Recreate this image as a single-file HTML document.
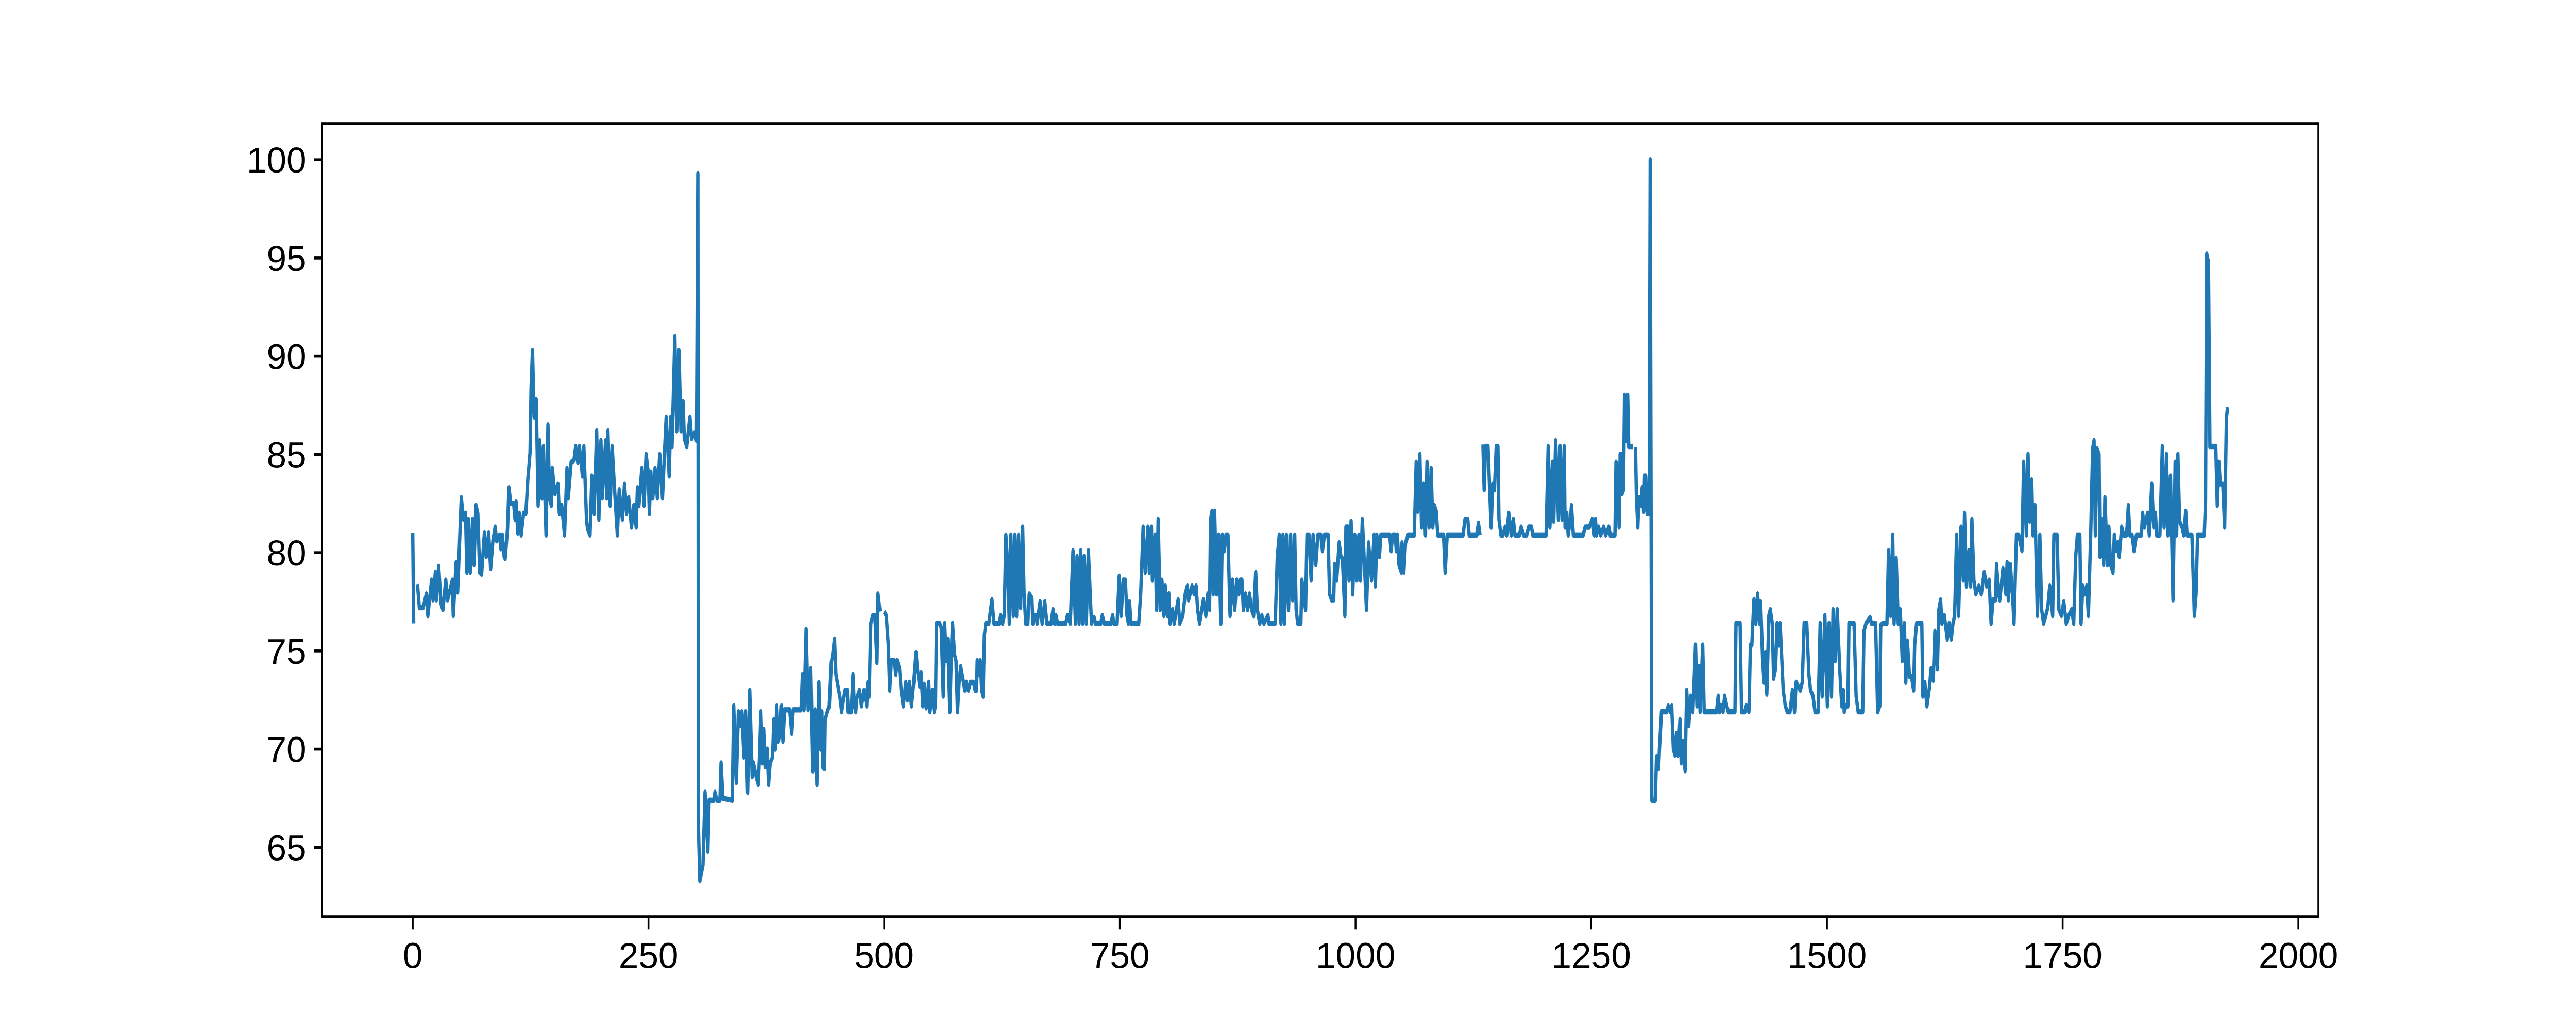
<!DOCTYPE html>
<html>
<head>
<meta charset="utf-8">
<style>
  html, body { margin: 0; padding: 0; background: #ffffff; width: 100%; height: 100%; overflow: hidden; }
  svg { display: block; width: 100vw; height: 100vh; font-family: "Liberation Sans", "DejaVu Sans", sans-serif; }
</style>
</head>
<body>
<svg id="chart" xmlns="http://www.w3.org/2000/svg" viewBox="0 0 8000 2000" preserveAspectRatio="none">
  <rect x="0" y="0" width="8000" height="2000" fill="#ffffff"/>
  <g id="xticks"></g>
  <g id="yticks"></g>
  <path id="series" fill="none" stroke="#1f77b4" stroke-width="10.4" stroke-linejoin="round" stroke-linecap="butt"/>
  <rect x="1000" y="240" width="6200" height="1540" fill="none" stroke="#000000" stroke-width="5.6"/>
</svg>
<script>
const xTicks = [0, 250, 500, 750, 1000, 1250, 1500, 1750, 2000];
const yTicks = [65, 70, 75, 80, 85, 90, 95, 100];
const xIdx = [0,1,3,5,7,11,14.5,16,20,21.5,24,25,27.5,30,32,35,37,42,43,46,47.6,51.5,53.7,56,57.4,59,61,63.5,65,67,69,71,73,76,78,80.5,82.6,85,87.4,89,92,93.5,95,97,98,100.5,102,104,107,108.5,109.6,111.4,113,115,117.5,120,122,124.4,125.5,127,128.8,131,133,134.7,137,138.6,141.4,143.4,145,147,148,150.6,154,155.5,158,161,163.6,165,168,171,172.8,175,176.7,180,181.5,184.4,185.5,188,190,192.4,195,197.4,199.6,201,204.6,205.7,207,209.4,211.5,213.7,217,219,222.4,224.6,226.8,229,232,234.4,237,238.3,239.9,243,245.3,247.5,249.7,251,252.5,254.6,257,259.4,262,264.9,267,268.8,272,273.6,275,278,280,282.3,284.5,286.7,288,290.6,294,295.8,298.7,301,302.4,303,304.5,307.8,310,313,314.3,315.5,319.3,320.5,322.6,325.8,327,329,338.9,340.4,343.2,345.4,347.6,349.1,351.3,353,355.2,357.4,360,361.3,364.3,366.5,367.8,369.3,370.9,372.2,373.7,375.9,377.4,379.1,381.7,383,384.6,386.1,387.8,390,391.1,392.6,394.4,397.6,399.8,402,403.5,411.8,413.3,415,417.2,419.4,422.2,424.4,426.6,428.6,430.7,432.5,434,434.7,436.8,437.5,439.7,441.8,444,445.6,447.3,448.8,450.6,453.2,454.9,457.1,458.6,460.8,461.9,465.1,466.9,468.4,469.9,471,473.9,476,478.7,481.5,482.6,484.1,485.8,488,490.2,492.4,493.5,495.6,497.5,500,502.2,504.4,505.9,507.6,510.9,512.4,513.7,516.3,518,520.2,522.9,524.6,526.8,529,531.6,533.8,535.5,537.7,539.2,541,542.5,544.6,547.3,548.6,551.2,553,554.4,555.5,558.8,560.5,562.7,564.2,565.8,567.5,569.7,571.2,572.5,574.7,576.2,577.8,579.5,581.2,583.8,585.6,587.1,589.3,591.5,594.7,596.5,598,598.7,600.2,601.9,603.5,605,606.3,607.8,611,612.1,614.3,616.5,621.9,623.7,625.6,627.4,629.1,630.7,632.8,634.4,637,638.7,640.5,642.6,644.7,646.9,648.4,650.2,652.4,653.9,656.7,657.8,658.9,661.1,662.2,665.4,667.6,670.4,672.6,677,679.1,680.7,682.2,683.9,692.6,694.4,697.4,700.3,702.9,704.6,706.8,708.5,710.7,712.2,714.4,716.6,718.8,719.9,722.7,724.2,729.7,731.4,733.6,740.6,742.3,743.8,747.1,749.3,751.4,753.6,755.8,757.5,759.1,760.2,761.9,770,772.1,774.7,776.9,779.8,781.3,783.5,784.5,787.4,788.9,790.6,792.8,794.6,796.7,798.3,800.4,802,803.3,805.9,807.6,811.8,813.5,816.8,819.4,821.6,822.9,826.6,828.8,830.9,832.5,834.6,838.6,841.2,843.3,845.1,846.2,847.7,849,850.5,852.7,854.9,857.1,858.6,860.8,862.5,864.7,865.8,866.9,869.5,871.9,874,876.2,877.7,879.5,881,883.2,885.4,887.5,889.7,891.9,894.1,895.8,898.4,900.6,902.8,907.1,908.2,914.8,917,919.1,920.9,923,924.6,926.7,928.9,931.1,933.3,935.5,937,938.7,942,943.1,947,948.5,950.7,952.9,955,957.9,960.1,963.1,964.9,967,970.9,972.4,974.6,976.8,977.8,980,982.6,984.4,986.1,988.7,989.8,992,993.1,995.3,997,999.2,1001.4,1003.5,1005.1,1007.2,1009.4,1011.6,1013.8,1017,1019.7,1021,1022.5,1025.3,1026.8,1036.2,1037.7,1039.3,1042.1,1043.2,1044.3,1046,1048.6,1049.3,1051.2,1053,1055.8,1062.3,1064.3,1066,1068.2,1070,1072.1,1074.1,1075.8,1078,1080.2,1081.9,1083.5,1085.6,1087.2,1093.3,1095,1097.2,1114,1116.1,1119,1120.5,1128.5,1130.3,1132,1133.5,1135.1,1136.4,1137.9,1140.5,1143.8,1145.5,1147.3,1149.2,1151,1152.1,1154.2,1156.4,1158.6,1160.3,1162.5,1165.1,1167.3,1169,1173.8,1175.6,1178.2,1181.5,1183.6,1186.5,1188,1202.1,1204.3,1206.1,1208.7,1210.2,1212.2,1215.2,1217,1219.1,1221.3,1222.2,1224,1225.5,1227.9,1229,1231,1241.4,1243.5,1247.9,1251.1,1253.3,1254.4,1255.5,1257.7,1259.9,1263.1,1265.3,1268.6,1270.1,1275.1,1276.2,1277.9,1279.5,1280.6,1282.1,1282.7,1284.2,1285.3,1287.5,1288.6,1289.7,1294.4,1295.6,1296.9,1297.9,1299.4,1300.5,1302.7,1304,1305.5,1306.6,1307.7,1309.2,1311.4,1312.5,1314.2,1317.9,1319.2,1321.4,1322.3,1324.5,1330.1,1331.6,1333.8,1335.3,1337.1,1338.8,1340.4,1341.9,1344.1,1345.4,1347.3,1349.5,1351.2,1353.4,1355.6,1357.8,1360.6,1362.1,1364.3,1365.4,1368.2,1369.8,1382.8,1384.6,1386.1,1387.6,1389.8,1391.5,1393.7,1395.4,1402.4,1403.5,1407.9,1409.4,1412.9,1414.4,1417.2,1418.8,1420.3,1422.5,1424.6,1426.4,1428.6,1429.6,1431.8,1433.3,1434.6,1436.2,1438.4,1439.9,1442,1443.4,1445.5,1447.1,1449.2,1450.3,1453.6,1455.8,1457.9,1460.8,1463.4,1465.6,1467.3,1469.5,1471.7,1473.8,1475.8,1478.6,1480.8,1482.6,1485.2,1487.3,1490.6,1492.8,1494.9,1497.8,1500.4,1502.2,1504.8,1506.5,1508.7,1510.9,1513.5,1515.7,1517.4,1518.3,1520,1522.2,1523.3,1528.7,1530.9,1533.1,1537.9,1539.2,1541.4,1545.7,1547.2,1551.6,1553.8,1556,1557,1559.2,1563.6,1565.3,1567.5,1569.7,1571.2,1573.4,1575.6,1577.7,1579.9,1582.1,1583.6,1585.3,1587.5,1589.7,1591.9,1593,1595.1,1600.6,1601.7,1603.8,1606,1608.9,1610.4,1612.7,1614.5,1617.1,1618.7,1620.5,1621.9,1624.5,1627.6,1629.7,1631.8,1633.6,1635.4,1637.5,1639.6,1642.2,1644.6,1645.9,1648,1650.6,1652.4,1653.7,1655.8,1657.9,1661,1663.7,1666.8,1669.4,1672,1674.1,1676.2,1678.8,1679.9,1682,1683.3,1686.7,1689.8,1691.1,1692.4,1694.5,1697.1,1698.4,1701,1703.4,1706.8,1708.6,1711.5,1713.3,1715.1,1717.2,1718.5,1720.6,1723.2,1725.8,1727.7,1729.8,1732.1,1734.2,1736.3,1739.4,1740.7,1744.1,1746,1748.6,1751.2,1753.8,1756.4,1759.6,1761.7,1763.8,1765.6,1768.2,1769.5,1771.3,1773.4,1775.5,1777.3,1779.9,1781.8,1783.3,1784.7,1786.5,1788.6,1789.6,1791.7,1793.5,1794.8,1797.4,1799,1800.9,1803.4,1804.8,1806.9,1808.7,1810,1812.6,1814.7,1817.8,1819.7,1821.2,1823.6,1825.7,1828.3,1833.5,1834.8,1836.7,1840.1,1841.9,1844.5,1846.6,1848.4,1849.7,1853.1,1855.7,1857.6,1860.2,1861.7,1864.3,1867,1869.3,1870.9,1872.2,1874,1876.6,1878.5,1880.5,1881.9,1884.5,1887.1,1889.7,1891.5,1893.1,1900.2,1901.5,1902.8,1904.6,1906.2,1909.3,1912.4,1914,1915.8,1917.1,1919.8,1921.8,1923.7,1925];
const yVals = [81.0,76.4,null,78.4,77.2,77.2,77.9,76.8,78.6,77.6,79.0,77.6,79.3,77.4,77.1,78.6,77.6,78.6,76.8,79.5,78.0,82.8,81.7,82.0,79.0,81.7,79.0,81.7,79.4,82.4,82.0,79.0,78.9,81.0,79.8,81.0,79.2,80.6,81.3,80.6,80.9,80.2,80.9,79.8,79.7,81.2,83.3,82.5,82.5,81.7,82.6,81.0,82.0,80.9,82.0,82.0,83.7,85.1,88.4,90.3,86.9,87.8,82.4,85.7,82.8,85.4,80.9,86.5,82.8,82.4,84.3,83.0,83.5,82.0,82.4,80.9,84.3,82.8,84.6,84.7,85.4,84.6,85.4,83.9,85.4,81.6,81.2,80.9,83.9,82.0,86.2,81.7,85.7,82.8,85.7,82.8,86.2,82.4,85.4,83.5,80.9,83.2,81.7,83.5,82.0,82.8,81.3,82.4,81.3,83.3,82.4,84.3,82.4,85.0,84.1,82.0,84.1,82.8,84.3,82.8,85.0,82.8,85.1,86.9,83.9,86.9,85.4,91.0,86.2,90.3,86.2,87.7,85.8,85.4,86.9,85.8,86.1,85.7,99.3,66.0,63.3,64.1,67.8,64.8,67.4,67.4,67.4,67.8,67.4,67.4,69.3,67.5,67.4,72.2,68.3,71.9,71.2,71.9,69.6,71.9,67.8,73.0,68.6,69.3,68.6,68.2,69.6,71.9,69.3,71.0,69.1,70.0,68.2,69.3,69.6,71.5,70.0,72.2,70.4,71.2,72.2,70.4,72.0,72.0,72.0,70.8,72.0,72.0,73.8,72.0,76.1,72.0,74.1,68.9,72.0,68.2,73.4,70.0,71.9,69.1,69.0,71.5,71.9,72.2,74.4,74.9,75.6,73.8,73.3,72.6,71.9,72.6,73.0,73.0,71.9,71.9,73.8,72.2,71.9,72.6,73.0,72.2,73.0,72.2,73.4,72.7,76.4,76.8,76.8,74.4,77.9,77.0,null,77.0,76.8,75.3,73.0,74.5,74.5,73.8,74.5,74.1,73.0,72.2,73.4,72.5,73.4,72.2,73.5,74.9,74.0,73.2,73.9,72.2,73.3,72.1,73.4,71.9,73.0,71.9,72.2,76.4,76.4,76.2,72.7,76.4,74.5,75.6,71.9,74.8,76.4,74.8,74.5,71.9,73.4,74.2,73.5,73.0,73.4,73.0,73.4,73.4,73.0,73.0,74.5,73.8,74.5,73.0,72.7,75.8,76.4,76.4,76.8,77.6,76.4,76.4,76.8,76.4,76.8,80.9,79.7,76.4,80.9,76.8,80.9,76.8,80.9,77.2,81.3,77.9,76.4,76.4,77.9,77.7,76.4,76.8,76.8,76.4,77.5,76.4,77.5,76.4,76.4,77.1,76.4,76.8,76.4,76.4,76.8,76.4,80.1,76.4,79.8,76.4,80.1,76.4,79.8,76.4,80.1,77.6,76.4,76.7,76.4,76.4,76.8,76.4,76.4,76.8,76.4,76.4,78.8,76.8,78.6,78.6,76.8,76.4,77.5,76.4,76.4,77.9,81.3,79.0,81.3,79.0,81.3,78.6,80.9,77.1,81.7,77.1,78.6,76.8,78.3,76.8,77.9,76.4,77.1,76.4,77.6,76.4,76.8,77.9,78.3,77.6,78.3,77.9,78.3,77.1,76.4,77.6,76.8,77.9,77.1,81.7,82.1,77.9,82.1,77.9,80.9,76.4,80.9,80.1,80.9,80.9,78.8,76.8,78.6,77.1,78.6,77.9,78.6,78.6,77.1,77.9,77.1,77.9,77.1,76.8,79.0,77.1,76.4,76.8,76.4,76.8,76.4,76.4,79.8,80.9,76.4,80.9,76.4,80.9,77.1,80.9,77.6,80.9,77.1,76.4,76.4,78.6,77.1,80.9,80.9,78.6,80.9,79.4,80.9,80.9,80.1,80.9,80.9,77.9,77.6,77.6,79.4,78.6,80.5,79.8,79.7,76.8,81.3,81.3,78.6,81.6,77.9,80.9,78.6,80.9,78.6,81.7,79.4,77.1,80.5,78.6,80.9,78.3,80.9,79.8,80.9,80.9,80.1,80.9,80.9,80.1,80.9,79.4,79.0,80.5,79.0,80.5,80.9,80.9,84.6,82.1,85.0,81.3,83.5,80.9,84.6,81.3,84.3,81.3,82.4,82.1,80.9,80.9,79.0,80.9,80.9,81.7,81.7,80.9,80.9,81.5,80.9,null,85.5,83.2,85.4,85.4,81.3,83.5,83.2,85.4,85.4,81.7,80.9,80.9,81.3,80.9,82.0,80.9,81.7,80.9,80.9,81.3,80.9,80.9,81.3,81.3,80.9,80.9,85.4,81.3,84.6,81.6,85.7,81.7,85.4,81.7,85.4,81.3,82.0,80.9,81.7,82.4,80.9,80.9,81.3,81.3,81.7,80.9,81.7,80.9,81.3,80.9,81.3,80.9,81.3,80.9,80.9,84.6,84.4,81.3,85.0,85.0,83.0,83.2,88.0,85.7,88.0,85.4,85.4,null,85.4,82.8,81.3,82.8,82.4,83.3,82.1,83.9,83.9,82.0,82.0,100.0,67.4,67.4,69.6,69.0,70.0,71.9,71.9,72.2,71.9,72.2,70.0,69.7,70.8,69.7,71.5,69.3,70.4,68.9,73.0,71.2,72.7,71.9,75.3,72.2,74.2,71.9,75.3,71.9,71.9,72.7,71.9,72.2,71.9,72.7,72.2,71.9,71.9,76.4,76.4,71.9,71.9,72.2,71.9,75.3,75.3,77.6,76.4,77.9,76.4,77.5,74.5,73.4,74.9,72.8,76.8,77.1,76.4,73.6,74.1,76.4,75.3,76.4,73.0,72.2,71.9,71.9,73.0,71.9,73.4,73.2,73.0,73.4,76.4,76.4,73.8,73.0,72.7,71.9,71.9,76.4,72.7,76.8,72.2,76.4,72.7,77.1,74.5,77.1,74.1,72.2,73.0,71.9,72.2,72.2,76.4,76.4,72.7,71.9,71.9,76.0,76.4,76.7,76.4,76.4,71.9,72.2,76.3,76.4,76.4,80.1,76.8,80.9,76.4,79.7,76.4,77.1,74.5,76.4,73.4,75.5,73.7,73.7,73.0,75.3,76.4,76.4,72.7,73.4,72.2,73.2,74.1,73.5,76.0,74.1,77.1,77.6,76.4,76.8,75.6,76.4,75.6,76.4,76.8,80.9,76.8,81.3,78.6,82.0,78.3,80.1,78.3,81.7,78.6,77.9,78.3,77.9,79.0,78.3,78.6,76.4,77.6,77.6,79.4,77.9,77.6,79.2,77.9,79.5,77.6,79.4,77.6,76.4,80.9,80.9,80.1,84.6,80.9,85.0,81.6,83.7,80.9,82.4,76.8,80.9,77.1,76.4,76.8,77.2,78.3,76.8,80.9,80.9,77.1,76.8,77.5,76.4,76.8,77.1,76.4,79.8,80.9,80.9,76.4,78.3,77.9,78.3,76.8,81.2,85.3,85.7,80.9,85.3,85.0,79.8,81.7,79.4,82.8,79.4,81.3,79.4,79.0,80.9,80.1,80.5,79.8,81.3,80.9,80.9,82.4,80.9,80.9,80.1,80.9,80.9,82.0,81.3,82.0,80.9,83.5,81.3,82.0,80.9,80.9,85.4,81.3,85.0,80.9,83.9,77.6,84.6,80.9,85.0,81.6,81.3,80.9,82.1,80.9,80.9,80.9,76.8,77.9,80.9,80.9,82.6,95.2,94.8,85.4,85.4,85.4,82.4,84.6,83.5,83.5,81.3,86.9,87.4];

const X0 = 1000, X1 = 7200, Y0 = 240, Y1 = 1780;
const xMin = -96.25, xMax = 2021.25, yMin = 61.47, yMax = 101.84;
function sx(v) { return X0 + (v - xMin) / (xMax - xMin) * (X1 - X0); }
function sy(v) { return Y1 - (v - yMin) / (yMax - yMin) * (Y1 - Y0); }

// compensate horizontal squash of text if the viewport aspect differs from 4:1
const vw = window.innerWidth || 8000, vh = window.innerHeight || 2000;
let kx = ((vw / 8000) / (vh / 2000));
if (!isFinite(kx) || kx <= 0) kx = 1;
const inv = 1 / kx;
function tf(x, y) { return 'translate(' + x + ' ' + y + ') scale(' + inv.toFixed(4) + ' 1)'; }

const NS = 'http://www.w3.org/2000/svg';
let d = '';
let pen = false;
for (let i = 0; i < xIdx.length; i++) {
  const v = yVals[i];
  if (v === null || v === undefined) { pen = false; continue; }
  d += (pen ? 'L' : 'M') + sx(xIdx[i]).toFixed(1) + ' ' + sy(v).toFixed(1);
  pen = true;
}
document.getElementById('series').setAttribute('d', d);

const gx = document.getElementById('xticks');
xTicks.forEach(t => {
  const x = sx(t);
  const ln = document.createElementNS(NS, 'line');
  
  
  ln.setAttribute('x1', x); ln.setAttribute('x2', x);
  ln.setAttribute('y1', Y1); ln.setAttribute('y2', Y1 + 24.3);
  ln.setAttribute('stroke', '#000'); ln.setAttribute('stroke-width', '5.6');
  gx.appendChild(ln);
  const tx = document.createElementNS(NS, 'text');
  
  
  tx.setAttribute('x', 0); tx.setAttribute('y', 0);
  tx.setAttribute('transform', tf(x, Y1 + 48.6 + 51));
  tx.setAttribute('text-anchor', 'middle');
  tx.setAttribute('font-size', '69.4');
  tx.setAttribute('fill', '#000');
  tx.textContent = String(t);
  gx.appendChild(tx);
});

const gy = document.getElementById('yticks');
yTicks.forEach(t => {
  const y = sy(t);
  const ln = document.createElementNS(NS, 'line');
  
  
  ln.setAttribute('x1', X0 - 24.3); ln.setAttribute('x2', X0);
  ln.setAttribute('y1', y); ln.setAttribute('y2', y);
  ln.setAttribute('stroke', '#000'); ln.setAttribute('stroke-width', '5.6');
  gy.appendChild(ln);
  const tx = document.createElementNS(NS, 'text');
  
  
  tx.setAttribute('x', 0); tx.setAttribute('y', 0);
  tx.setAttribute('transform', tf(X0 - 48.6, y + 25));
  tx.setAttribute('text-anchor', 'end');
  tx.setAttribute('font-size', '69.4');
  tx.setAttribute('fill', '#000');
  tx.textContent = String(t);
  gy.appendChild(tx);
});
</script>
</body>
</html>
